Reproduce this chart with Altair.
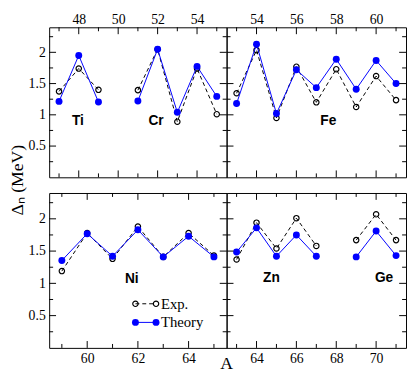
import altair as alt
import pandas as pd

# ---------------- data ----------------
ti_A = [47, 48, 49]
ti_exp = [1.375, 1.74, 1.40]
ti_th = [1.215, 1.95, 1.205]

cr_A = [51, 52, 53, 54, 55]
cr_exp = [1.395, 2.05, 0.89, 1.74, 1.01]
cr_th = [1.22, 2.05, 1.04, 1.775, 1.295]

fe_A = [53, 54, 55, 56, 57, 58, 59, 60, 61]
fe_exp = [1.345, 2.035, 0.95, 1.77, 1.20, 1.73, 1.125, 1.62, 1.235]
fe_th = [1.18, 2.13, 1.02, 1.72, 1.435, 1.89, 1.41, 1.87, 1.50]

ni_A = [59, 60, 61, 62, 63, 64, 65]
ni_exp = [1.19, 1.78, 1.38, 1.88, 1.41, 1.78, 1.43]
ni_th = [1.354, 1.77, 1.42, 1.83, 1.41, 1.73, 1.41]

zn_A = [63, 64, 65, 66, 67]
zn_exp = [1.37, 1.94, 1.54, 2.01, 1.58]
zn_th = [1.485, 1.86, 1.42, 1.75, 1.42]

ge_A = [69, 70, 71]
ge_exp = [1.67, 2.07, 1.67]
ge_th = [1.41, 1.81, 1.43]

elements = ["Ti", "Cr", "Fe", "Ni", "Zn", "Ge"]
label_A = [47.96, 51.92, 57.6, 61.76, 64.75, 70.4]
label_v = [0.9, 0.9, 0.9, 1.07, 1.08, 1.08]

series_names = ["Exp.", "Theory"]
y_title = "Δₙ (MeV)"
x_title = "A"
y_ticks_major = [0.5, 1.0, 1.5, 2.0]
y_ticks_minor = [0.25, 0.75, 1.25, 1.75, 2.25]

DATA = {
    "Ti": (ti_A, ti_exp, ti_th),
    "Cr": (cr_A, cr_exp, cr_th),
    "Fe": (fe_A, fe_exp, fe_th),
    "Ni": (ni_A, ni_exp, ni_th),
    "Zn": (zn_A, zn_exp, zn_th),
    "Ge": (ge_A, ge_exp, ge_th),
}

SERIF = "Liberation Serif"
SANS = "Liberation Sans"
BLUE = "#0000ff"
YDOM = [0, 2.4]
MAJ = 7
MIN = 4


def long_df(elems):
    rows = []
    for name in elems:
        A, ex, th = DATA[name]
        for a, e, t in zip(A, ex, th):
            rows.append({"el": name, "A": a, "s": "exp", "v": e})
            rows.append({"el": name, "A": a, "s": "th", "v": t})
    return pd.DataFrame(rows)


def panel(elems, xdom, xmaj, xmin, w, h, xorient, left_labels,
          ytitle=False, xtitle=False, legend=False):
    df = long_df(elems)
    xaxis = alt.Axis(orient=xorient, values=xmaj, format="d", ticks=False, tickSize=0,
                     domain=False, grid=False, labelFont=SERIF, labelFontSize=14,
                     labelColor="black", labelPadding=(1 if xorient == "top" else 4),
                     title=None)
    if left_labels:
        yaxis = alt.Axis(orient="left", values=y_ticks_major, format="~g", ticks=False,
                         tickSize=0, domain=False, grid=False, labelFont=SERIF,
                         labelFontSize=14, labelColor="black", labelPadding=4,
                         title=None)
    else:
        yaxis = None
    X = alt.X("A:Q", scale=alt.Scale(domain=xdom, nice=False, zero=False), axis=xaxis)
    Y = alt.Y("v:Q", scale=alt.Scale(domain=YDOM, nice=False, zero=False), axis=yaxis)

    base = alt.Chart(df)
    exp_line = base.transform_filter(alt.datum.s == "exp").mark_line(
        color="black", strokeWidth=1, strokeDash=[4, 3]).encode(x=X, y=Y, detail="el:N")
    exp_pts = base.transform_filter(alt.datum.s == "exp").mark_point(
        shape="circle", filled=False, color="black", size=30, strokeWidth=1.2,
        opacity=1).encode(x=X, y=Y)
    th_line = base.transform_filter(alt.datum.s == "th").mark_line(
        color=BLUE, strokeWidth=1).encode(x=X, y=Y, detail="el:N")
    th_pts = base.transform_filter(alt.datum.s == "th").mark_circle(
        color=BLUE, size=50, opacity=1).encode(x=X, y=Y)

    # element labels
    lab = pd.DataFrame({"A": [label_A[elements.index(e)] for e in elems],
                        "v": [label_v[elements.index(e)] for e in elems],
                        "t": elems})
    labels = alt.Chart(lab).mark_text(font=SANS, fontSize=14, fontWeight="bold",
                                      color="black").encode(x=X, y=Y, text="t:N")

    # inward ticks
    xmajdf = pd.DataFrame({"A": xmaj})
    xmindf = pd.DataFrame({"A": xmin})
    ymajdf = pd.DataFrame({"v": y_ticks_major})
    ymindf = pd.DataFrame({"v": y_ticks_minor})
    tk = dict(color="black", strokeWidth=1)
    ticks = [
        alt.Chart(xmajdf).mark_rule(**tk).encode(x=X, y=alt.value(0), y2=alt.value(MAJ)),
        alt.Chart(xmindf).mark_rule(**tk).encode(x=X, y=alt.value(0), y2=alt.value(MIN)),
        alt.Chart(xmajdf).mark_rule(**tk).encode(x=X, y=alt.value(h), y2=alt.value(h - MAJ)),
        alt.Chart(xmindf).mark_rule(**tk).encode(x=X, y=alt.value(h), y2=alt.value(h - MIN)),
        alt.Chart(ymajdf).mark_rule(**tk).encode(y=Y, x=alt.value(0), x2=alt.value(MAJ)),
        alt.Chart(ymindf).mark_rule(**tk).encode(y=Y, x=alt.value(0), x2=alt.value(MIN)),
        alt.Chart(ymajdf).mark_rule(**tk).encode(y=Y, x=alt.value(w), x2=alt.value(w - MAJ)),
        alt.Chart(ymindf).mark_rule(**tk).encode(y=Y, x=alt.value(w), x2=alt.value(w - MIN)),
    ]

    layers = [exp_line, exp_pts, th_line, th_pts, labels] + ticks

    one = alt.Chart(pd.DataFrame({"k": [0]}))
    if ytitle:
        layers.append(one.mark_text(font=SERIF, fontSize=18, angle=270, align="center",
                                    baseline="middle", color="black").encode(
            x=alt.value(-32), y=alt.value(-13), text=alt.value(y_title)))
    if xtitle:
        layers.append(one.mark_text(font=SERIF, fontSize=18, align="center",
                                    baseline="alphabetic", color="black").encode(
            x=alt.value(w), y=alt.value(h + 22), text=alt.value(x_title)))

    if legend:
        y1, y2 = 113, 132
        xa, xb, xt = 88, 109, 114
        layers += [
            one.mark_rule(color="black", strokeWidth=1, strokeDash=[4, 3]).encode(
                x=alt.value(xa), x2=alt.value(xb), y=alt.value(y1)),
            one.mark_point(shape="circle", filled=False, color="black", size=30,
                           strokeWidth=1.2, opacity=1).encode(x=alt.value(xa), y=alt.value(y1)),
            one.mark_point(shape="circle", filled=False, color="black", size=30,
                           strokeWidth=1.2, opacity=1).encode(x=alt.value(xb), y=alt.value(y1)),
            one.mark_text(align="left", baseline="middle", font=SERIF, fontSize=15,
                          color="black").encode(x=alt.value(xt), y=alt.value(y1),
                                                text=alt.value(series_names[0])),
            one.mark_rule(color=BLUE, strokeWidth=1).encode(
                x=alt.value(xa), x2=alt.value(xb), y=alt.value(y2)),
            one.mark_circle(color=BLUE, size=50, opacity=1).encode(
                x=alt.value(xa), y=alt.value(y2)),
            one.mark_circle(color=BLUE, size=50, opacity=1).encode(
                x=alt.value(xb), y=alt.value(y2)),
            one.mark_text(align="left", baseline="middle", font=SERIF, fontSize=15,
                          color="black").encode(x=alt.value(xt), y=alt.value(y2),
                                                text=alt.value(series_names[1])),
        ]

    return alt.layer(*layers).properties(width=w, height=h)


WL, WR = 181, 183
HT, HB = 153, 158

tl = panel(["Ti", "Cr"], [46.5, 55.5], [48, 50, 52, 54], [47, 49, 51, 53, 55],
           WL, HT, "top", True)
tr = panel(["Fe"], [52.5, 61.5], [54, 56, 58, 60], [53, 55, 57, 59, 61],
           WR, HT, "top", False)
bl = panel(["Ni"], [58.5, 65.5], [60, 62, 64], [59, 61, 63, 65],
           WL, HB, "bottom", True, ytitle=True, xtitle=True, legend=True)
br = panel(["Zn", "Ge"], [62.5, 71.5], [64, 66, 68, 70], [63, 65, 67, 69, 71],
           WR, HB, "bottom", False)

chart = alt.concat(tl, tr, bl, br, columns=2, spacing={"row": 16, "column": 0},
                   bounds="flush").properties(
    padding=0, background="white"
).configure_view(stroke="black", strokeWidth=1)

chart.save("out.html", embed_options={"renderer": "svg", "actions": False})
